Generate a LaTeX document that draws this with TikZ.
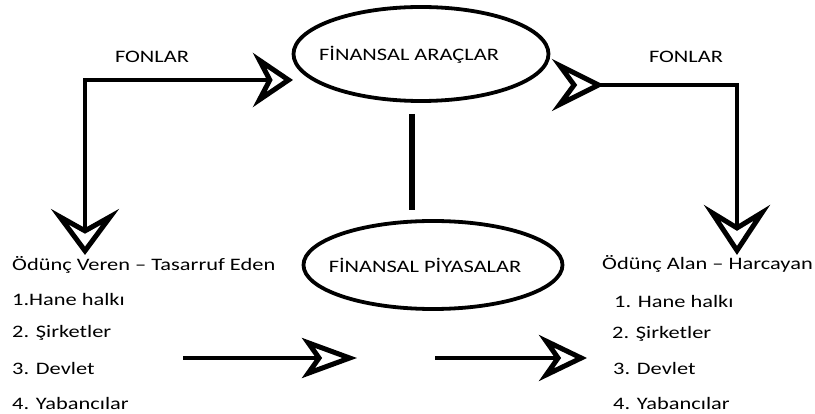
\documentclass[tikz,border=0pt]{standalone}
\usepackage{fontspec}
\setmainfont{Carlito}[FakeStretch=1.28]
\usetikzlibrary{shapes.geometric,arrows.meta,calc}
\begin{document}
\begin{tikzpicture}[x=1pt,y=-1pt,
  conn/.style={line width=4pt},
  oval/.style={ellipse,draw,line width=3.8pt,inner sep=0pt},
  lbl/.style={inner sep=0pt,text=black,font=\fontsize{17.5}{20}\selectfont},
  lst/.style={lbl,anchor=west},
]
\useasboundingbox (0,0) rectangle (815,414);
% ellipses
\node[oval,minimum width=255pt,minimum height=94pt] (A) at (421,54) {};
\node[lbl] (At) at (409,55) {FİNANSAL ARAÇLAR};
\node[oval,minimum width=259pt,minimum height=88pt] (B) at (433,265) {};
\node[lbl] (Bt) at (425,265) {FİNANSAL PİYASALAR};
% labels
\node[lbl] (F1) at (152,57) {FONLAR};
\node[lbl] (F2) at (686,57) {FONLAR};
% left list
\node[lst] (L0) at (12,265) {Ödünç Veren – Tasarruf Eden};
\node[lst] (L1) at (12,299) {1.Hane halkı};
\node[lst] (L2) at (12,333) {2. Şirketler};
\node[lst] (L3) at (12,368) {3. Devlet};
\node[lst] (L4) at (12,403) {4. Yabancılar};
% right list
\node[lbl,anchor=east] (R0) at (813,264) {Ödünç Alan – Harcayan};
\node[lst] (R1) at (614,301) {1. Hane halkı};
\node[lst] (R2) at (612,334) {2. Şirketler};
\node[lst] (R3) at (613,368) {3. Devlet};
\node[lst] (R4) at (613,403) {4. Yabancılar};
% connectors
\coordinate (lc) at (85,80);
\coordinate (lt) at (85,255);
\coordinate (la) at (293,80);
\draw[conn,{Stealth[open,length=46pt,width=68pt,inset=19pt,line width=5pt]}-{Stealth[open,length=40pt,width=54pt,inset=14pt,line width=5pt]}]
  (lt) -- (lc) -- (la);
\coordinate (rs) at (552,85);
\coordinate (rc) at (737,85);
\coordinate (rt) at (732,255);
\draw[conn,{Stealth[open,reversed,length=52pt,width=52pt,inset=19pt,line width=5pt]}-{Stealth[open,length=50pt,width=66pt,inset=20pt,line width=5pt]}]
  (rs) -- (rc) -- (rc |- rt);
\draw[conn,line width=5.5pt] ($(A.south)+(-9,11)$) -- ($(B.north)+(-21,-9)$);
\coordinate (b1s) at (183,358);
\coordinate (b1e) at (357,358);
\coordinate (b2s) at (435,358);
\coordinate (b2e) at (587,358);
\draw[conn,-{Stealth[open,length=55pt,width=40pt,inset=14pt,line width=5pt]}] (b1s) -- (b1e);
\draw[conn,-{Stealth[open,length=48pt,width=46pt,inset=16pt,line width=5pt]}] (b2s) -- (b2e);
\end{tikzpicture}
\end{document}
